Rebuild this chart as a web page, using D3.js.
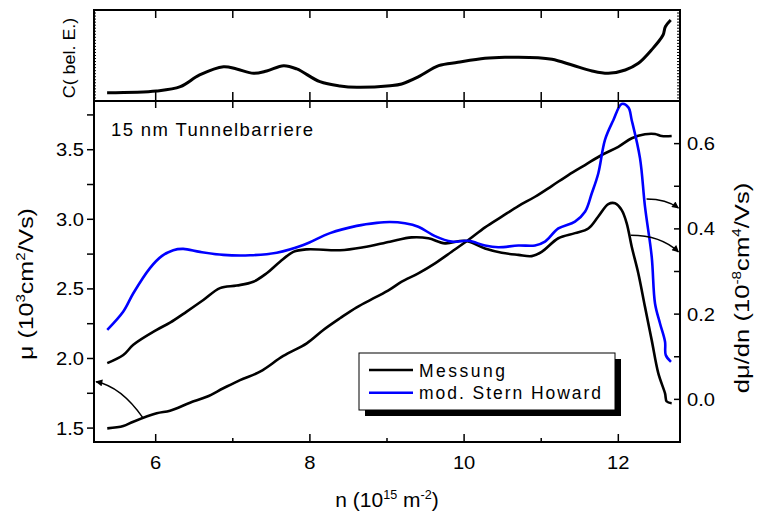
<!DOCTYPE html>
<html><head><meta charset="utf-8">
<script src="https://cdn.jsdelivr.net/npm/d3@7"></script>
<style>
body{margin:0;background:#fff;}
text{font-family:Arial,"Liberation Sans",sans-serif;fill:#000;}
</style></head>
<body><svg id="c" width="757" height="514"></svg>
<script>
// ---- data ----
const xTicks = [6, 8, 10, 12];
const xMinor = [7, 9, 11];
const muTicks = [1.5, 2.0, 2.5, 3.0, 3.5];
const muMinor = [1.75, 2.25, 2.75, 3.25, 3.75];
const dTicks = [0.0, 0.2, 0.4, 0.6];
const dMinor = [-0.1, 0.1, 0.3, 0.5];

// top panel: C (arb. units)
const nC = [5.37,6.01,6.32,6.57,6.88,7.05,7.27,7.44,7.66,7.83,8.13,8.39,8.61,9.04,9.19,9.41,9.67,9.92,10.27,10.53,10.96,11.14,11.40,11.66,11.87,12.09,12.26,12.43,12.58,12.61,12.68];
const cVal = [0.091,0.110,0.157,0.286,0.377,0.352,0.304,0.330,0.388,0.352,0.212,0.165,0.151,0.168,0.187,0.267,0.388,0.425,0.469,0.480,0.476,0.458,0.396,0.330,0.304,0.341,0.414,0.560,0.725,0.816,0.890];

// mobility mu (left axis)
const nMu = [5.372,5.580,5.710,6.013,6.186,6.445,6.662,6.877,7.094,7.353,7.655,7.959,8.174,8.390,8.607,8.867,9.039,9.191,9.406,9.623,9.839,10.054,10.271,10.488,10.703,10.920,11.136,11.352,11.568,11.785,12.000,12.174,12.346,12.476,12.563,12.692];
const muMeas = [1.498,1.515,1.546,1.606,1.625,1.682,1.725,1.786,1.845,1.905,2.018,2.109,2.205,2.289,2.368,2.444,2.497,2.552,2.612,2.684,2.767,2.851,2.942,3.019,3.095,3.162,3.239,3.318,3.390,3.462,3.521,3.582,3.611,3.613,3.598,3.598];

// dmu/dn measured (right axis)
const nDm = [5.372,5.580,5.710,6.013,6.186,6.402,6.618,6.834,7.051,7.266,7.440,7.612,7.785,7.959,8.390,8.693,9.039,9.320,9.536,9.752,10.012,10.271,10.488,10.703,10.877,11.006,11.222,11.438,11.611,11.740,11.870,11.957,12.044,12.109,12.174,12.259,12.346,12.433,12.519,12.606,12.628,12.692];
const dMeas = [0.085,0.104,0.128,0.163,0.180,0.206,0.233,0.261,0.267,0.276,0.296,0.323,0.346,0.352,0.350,0.357,0.370,0.380,0.378,0.366,0.372,0.354,0.344,0.339,0.336,0.346,0.378,0.390,0.401,0.429,0.458,0.460,0.444,0.413,0.358,0.296,0.217,0.139,0.061,0.014,-0.005,-0.009];

// dmu/dn modified Stern Howard (right axis)
const nSH = [5.372,5.580,5.710,5.926,6.078,6.228,6.358,6.575,6.877,7.223,7.570,7.915,8.261,8.607,8.867,9.039,9.233,9.406,9.623,9.839,10.054,10.271,10.444,10.703,10.920,11.049,11.222,11.438,11.568,11.655,11.740,11.827,11.935,12.044,12.130,12.174,12.281,12.346,12.433,12.476,12.541,12.606,12.615,12.683];
const dSH = [0.163,0.206,0.249,0.308,0.336,0.350,0.353,0.346,0.339,0.338,0.344,0.362,0.390,0.407,0.414,0.416,0.413,0.405,0.383,0.370,0.372,0.361,0.357,0.361,0.361,0.370,0.401,0.417,0.440,0.483,0.530,0.609,0.655,0.693,0.685,0.655,0.566,0.452,0.335,0.225,0.178,0.135,0.104,0.088];

const seriesNames = ["Messung", "mod. Stern Howard"];
const seriesColors = ["#000000", "#0000ff"];

// ---- layout ----
const svg = d3.select("#c");
const L = 94, R = 680, T0 = 10, T1 = 101, B = 442;
const x = d3.scaleLinear().domain([5.2, 12.8]).range([L, R]);
const yMu = d3.scaleLinear().domain([1.4, 3.85]).range([B, T1]);
const yD = d3.scaleLinear().domain([-0.1, 0.7]).range([B, T1]);
const yC = d3.scaleLinear().domain([0, 1]).range([T1, T0]);

const line = (xs, ys, ys2) => d3.line().curve(d3.curveCatmullRom.alpha(0.5))
  .x((d, i) => x(xs[i])).y((d, i) => ys2(ys[i]))(ys);

// defs
const defs = svg.append("defs");
defs.append("marker").attr("id", "ah").attr("viewBox", "0 0 10 10")
  .attr("refX", 9).attr("refY", 5).attr("markerWidth", 9).attr("markerHeight", 7)
  .attr("markerUnits", "userSpaceOnUse").attr("orient", "auto")
  .append("path").attr("d", "M0,0 L10,5 L0,10 Z").attr("fill", "#000");

// ---- top panel ----
svg.append("path").attr("d", line(nC, cVal, yC))
  .attr("fill", "none").attr("stroke", "#000").attr("stroke-width", 3);

// ---- main curves ----
svg.append("path").attr("d", line(nMu, muMeas, yMu))
  .attr("fill", "none").attr("stroke", "#000").attr("stroke-width", 2.6);
svg.append("path").attr("d", line(nDm, dMeas, yD))
  .attr("fill", "none").attr("stroke", "#000").attr("stroke-width", 2.6);
svg.append("path").attr("d", line(nSH, dSH, yD))
  .attr("fill", "none").attr("stroke", "#0000ff").attr("stroke-width", 2.6);

// ---- frames ----
const g = svg.append("g").attr("stroke", "#000").attr("fill", "none");
g.append("rect").attr("x", L).attr("y", T0).attr("width", R - L).attr("height", T1 - T0).attr("stroke-width", 2);
g.append("rect").attr("x", L).attr("y", T1).attr("width", R - L).attr("height", B - T1).attr("stroke-width", 2);

// top panel ticks (integers)
[...xTicks, ...xMinor].forEach(v => {
  g.append("line").attr("x1", x(v)).attr("x2", x(v)).attr("y1", T0).attr("y2", T0 + 8).attr("stroke-width", 1.5);
  g.append("line").attr("x1", x(v)).attr("x2", x(v)).attr("y1", T1).attr("y2", T1 - 9).attr("stroke-width", 1.5);
  g.append("line").attr("x1", x(v)).attr("x2", x(v)).attr("y1", T1).attr("y2", T1 + 7).attr("stroke-width", 1.5);
});
// fine ticks on top panel sides
d3.range(0, 1.0001, 1 / 30).forEach(v => {
  g.append("line").attr("x1", L).attr("x2", L + 2).attr("y1", yC(v)).attr("y2", yC(v)).attr("stroke-width", 1);
  g.append("line").attr("x1", R).attr("x2", R - 3).attr("y1", yC(v)).attr("y2", yC(v)).attr("stroke-width", 1);
});
// bottom x axis ticks
xTicks.forEach(v => g.append("line").attr("x1", x(v)).attr("x2", x(v)).attr("y1", B).attr("y2", B - 8).attr("stroke-width", 1.5));
xMinor.forEach(v => g.append("line").attr("x1", x(v)).attr("x2", x(v)).attr("y1", B).attr("y2", B - 4).attr("stroke-width", 1.5));
// left ticks
[...muTicks, ...muMinor].forEach(v => g.append("line").attr("x1", L).attr("x2", L - 7).attr("y1", yMu(v)).attr("y2", yMu(v)).attr("stroke-width", 1.5));
// right ticks
[...dTicks, ...dMinor].forEach(v => g.append("line").attr("x1", R).attr("x2", R - 6).attr("y1", yD(v)).attr("y2", yD(v)).attr("stroke-width", 1.5));

// tick labels (slightly wide font, as in the original)
const fs = 18, sx = 1.12;
xTicks.forEach(v => svg.append("text").attr("transform", `translate(${x(v)},469) scale(${sx},1)`).attr("text-anchor", "middle").attr("font-size", fs).text(v));
muTicks.forEach(v => svg.append("text").attr("transform", `translate(84,${yMu(v)}) scale(${sx},1)`).attr("dy", "0.36em").attr("text-anchor", "end").attr("font-size", fs).text(d3.format(".1f")(v)));
dTicks.forEach(v => svg.append("text").attr("transform", `translate(687,${yD(v)}) scale(${sx},1)`).attr("dy", "0.36em").attr("text-anchor", "start").attr("font-size", fs).text(d3.format(".1f")(v)));

// axis titles
const xt = svg.append("text").attr("transform", "translate(387,507) scale(1.05,1)").attr("text-anchor", "middle").attr("font-size", 20);
xt.append("tspan").text("n (10");
xt.append("tspan").attr("font-size", 12).attr("dy", -8).text("15");
xt.append("tspan").attr("dy", 8).text(" m");
xt.append("tspan").attr("font-size", 12).attr("dy", -8).text("-2");
xt.append("tspan").attr("dy", 8).text(")");

const yl = svg.append("text").attr("transform", "translate(33,284) rotate(-90) scale(1.25,1)").attr("text-anchor", "middle").attr("font-size", 20);
yl.append("tspan").text("\u03bc (10");
yl.append("tspan").attr("font-size", 12).attr("dy", -8).text("3");
yl.append("tspan").attr("dy", 8).text("cm");
yl.append("tspan").attr("font-size", 12).attr("dy", -8).text("2");
yl.append("tspan").attr("dy", 8).text("/Vs)");

const yr = svg.append("text").attr("transform", "translate(749,288) rotate(-90) scale(1.28,1)").attr("text-anchor", "middle").attr("font-size", 20);
yr.append("tspan").text("d\u03bc/dn (10");
yr.append("tspan").attr("font-size", 12).attr("dy", -8).text("-8");
yr.append("tspan").attr("dy", 8).text("cm");
yr.append("tspan").attr("font-size", 12).attr("dy", -8).text("4");
yr.append("tspan").attr("dy", 8).text("/Vs)");

svg.append("text").attr("transform", "translate(75,58) rotate(-90) scale(1.12,1)").attr("text-anchor", "middle").attr("font-size", 16).text("C( bel. E.)");

// annotation
svg.append("text").attr("x", 111).attr("y", 136).attr("font-size", 18.5)
  .attr("textLength", 202).attr("lengthAdjust", "spacing").text("15 nm Tunnelbarriere");

// legend
const lg = svg.append("g");
lg.append("rect").attr("x", 365).attr("y", 359).attr("width", 256).attr("height", 57).attr("fill", "#000");
lg.append("rect").attr("x", 359).attr("y", 353).attr("width", 256).attr("height", 57).attr("fill", "#fff").attr("stroke", "#000").attr("stroke-width", 1);
seriesNames.forEach((s, i) => {
  const yy = 370 + i * 22.7;
  lg.append("line").attr("x1", 369).attr("x2", 413).attr("y1", yy).attr("y2", yy).attr("stroke", seriesColors[i]).attr("stroke-width", 2.6);
  lg.append("text").attr("x", 419).attr("y", yy + 6.5).attr("font-size", 17.5)
    .attr("textLength", i === 0 ? 86 : 182).attr("lengthAdjust", "spacing").text(s);
});

// arrows (data-coordinates)
const arrows = [
  {from: [5.84, 1.57], ctrl: [5.55, 1.80], to: [5.226, 1.833], sy: yMu},
  {from: [12.366, 0.470], ctrl: [12.62, 0.470], to: [12.78, 0.449], sy: yD},
  {from: [12.16, 0.385], ctrl: [12.55, 0.385], to: [12.78, 0.346], sy: yD}
];
arrows.forEach(a => {
  const p = d3.path();
  p.moveTo(x(a.from[0]), a.sy(a.from[1]));
  p.quadraticCurveTo(x(a.ctrl[0]), a.sy(a.ctrl[1]), x(a.to[0]), a.sy(a.to[1]));
  svg.append("path").attr("d", p.toString()).attr("fill", "none").attr("stroke", "#000").attr("stroke-width", 1.4).attr("marker-end", "url(#ah)");
});
</script></body></html>
